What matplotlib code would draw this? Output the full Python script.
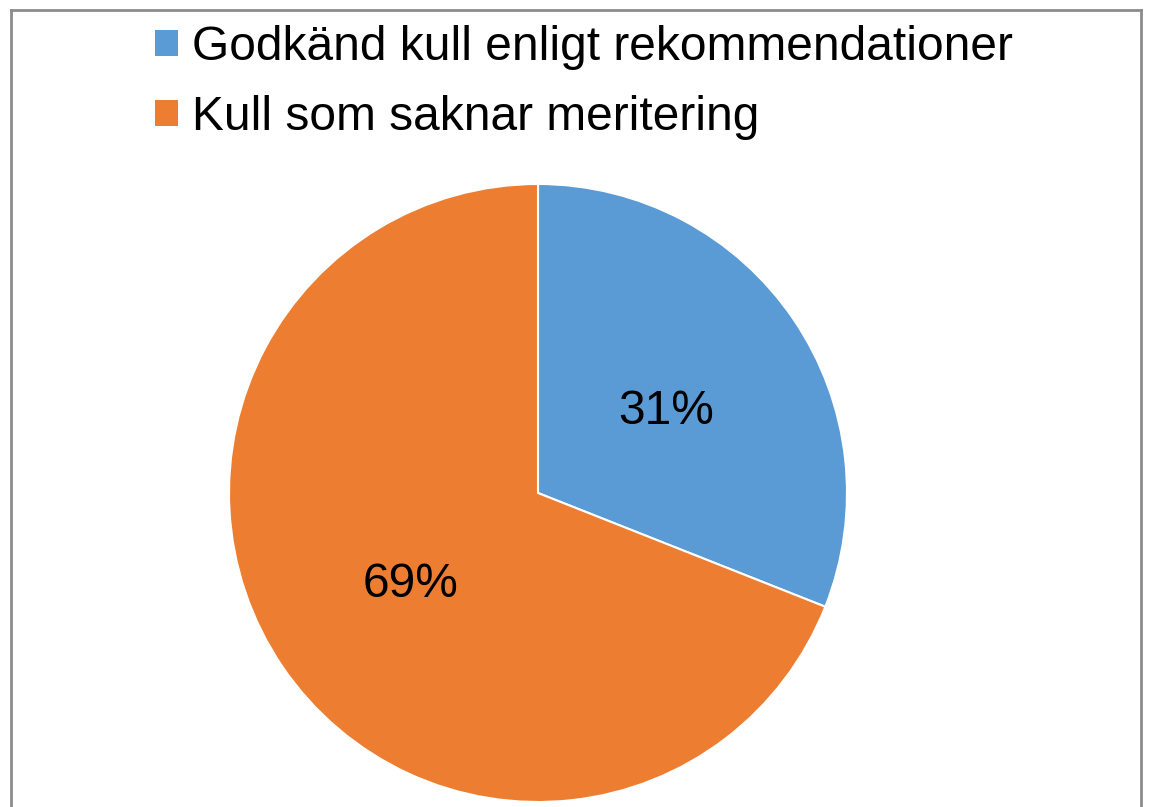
import matplotlib.pyplot as plt
import matplotlib.transforms as mtransforms
from matplotlib.patches import Patch
from matplotlib.lines import Line2D

plt.rcParams["font.family"] = ["Liberation Sans", "DejaVu Sans"]

# -------------------------
# data
# -------------------------
labels = ["Godkänd kull enligt rekommendationer", "Kull som saknar meritering"]
shares = [31, 69]
colors = ["#5B9BD5", "#ED7D31"]

W, H = 1149, 807
fig = plt.figure(figsize=(W / 100, H / 100), dpi=100)

# pie axes: centre (538, 493) px, radius 309 px
cx, cy, r = 538, 493, 309
ax = fig.add_axes([(cx - r) / W, (H - cy - r) / H, 2 * r / W, 2 * r / H])

wedges, texts, autotexts = ax.pie(
    shares,
    colors=colors,
    startangle=90,
    counterclock=False,
    autopct="%d%%",
    pctdistance=0.5,
    wedgeprops=dict(edgecolor="white", linewidth=1.5),
    textprops=dict(fontsize=34.5, color="black"),
)
ax.set_xlim(-1, 1)
ax.set_ylim(-1, 1)
ax.set_aspect("equal")
ax.axis("off")

# nudge the percentage labels a little downwards
shift = mtransforms.ScaledTranslation(0, -5 / 100, fig.dpi_scale_trans)
for t in autotexts:
    t.set_transform(t.get_transform() + shift)

# -------------------------
# legend
# -------------------------
handles = [Patch(facecolor=c, edgecolor="none") for c in colors]
fig.legend(
    handles,
    labels,
    loc="upper left",
    bbox_to_anchor=(155 / W, 1 - 25 / H),
    frameon=False,
    fontsize=34.5,
    handlelength=0.48,
    handleheight=0.48,
    handletextpad=0.29,
    labelspacing=0.52,
    borderaxespad=0,
    borderpad=0,
)

# -------------------------
# chart border (open at bottom)
# -------------------------
x0, x1 = 10.5 / W, 1140.5 / W
yt = 1 - 10 / H
border = dict(color="#8C8C8C", linewidth=2.0, transform=fig.transFigure)
fig.add_artist(Line2D([x0, x1], [yt, yt], **border))
fig.add_artist(Line2D([x0, x0], [yt, -0.01], **border))
fig.add_artist(Line2D([x1, x1], [yt, -0.01], **border))

fig.savefig("out.png", dpi=100)
